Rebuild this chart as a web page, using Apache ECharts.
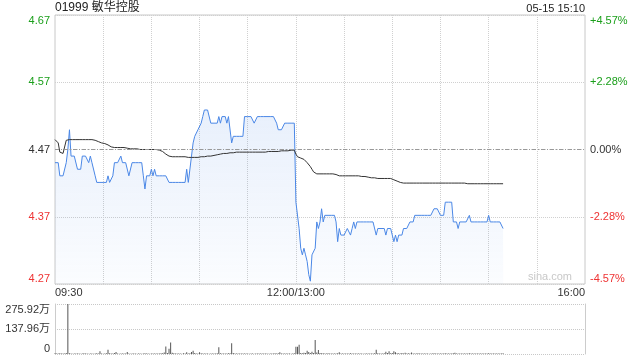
<!DOCTYPE html>
<html><head><meta charset="utf-8">
<script src="https://cdn.jsdelivr.net/npm/echarts@6/dist/echarts.min.js"></script>
<style>html,body{margin:0;padding:0;background:#fff}#c{width:640px;height:360px}</style>
</head><body><div id="c"></div>
<script>
const stockTitle = '01999 敏华控股';
const stampText = '05-15 15:10';
const watermark = 'sina.com';
const prevClose = 4.47;
const priceTicks = ['4.27','4.37','4.47','4.57','4.67'];
const pctTicks = ['-4.57%','-2.28%','0.00%','+2.28%','+4.57%'];
const volTicks = ['0','137.96万','275.92万'];
const xTickLabels = {0:'09:30',150:'12:00/13:00',330:'16:00'};
const volMax = 2759200;
const pctMax = 4.57, pctStep = 2.285;

// minute categories 09:30-12:00 / 13:01-16:00
const times = [];
for (let m = 0; m <= 150; m++) { const t = 570 + m; times.push(String(Math.floor(t/60)).padStart(2,'0')+':'+String(t%60).padStart(2,'0')); }
for (let m = 1; m <= 180; m++) { const t = 780 + m; times.push(String(Math.floor(t/60)).padStart(2,'0')+':'+String(t%60).padStart(2,'0')); }

const prices = [
4.45,4.45,4.45,4.43,4.43,4.43,4.43,4.45,4.47,4.50,
4.46,4.46,4.46,4.46,4.44,4.44,4.44,4.46,4.46,4.46,
4.46,4.45,4.46,4.45,4.45,4.43,4.42,4.42,4.42,4.42,
4.42,4.42,4.42,4.43,4.42,4.42,4.43,4.45,4.45,4.45,
4.45,4.46,4.45,4.45,4.45,4.45,4.43,4.43,4.45,4.45,
4.45,4.45,4.45,4.45,4.45,4.43,4.41,4.43,4.43,4.43,
4.44,4.43,4.44,4.43,4.43,4.43,4.43,4.43,4.43,4.43,
4.43,4.42,4.42,4.42,4.42,4.42,4.42,4.42,4.42,4.42,
4.42,4.42,4.44,4.42,4.42,4.46,4.48,4.49,4.49,4.50,
4.50,4.51,4.52,4.53,4.53,4.53,4.53,4.51,4.51,4.51,
4.51,4.51,4.52,4.51,4.52,4.52,4.52,4.51,4.52,4.52,
4.48,4.49,4.49,4.49,4.49,4.49,4.49,4.49,4.52,4.52,
4.52,4.52,4.52,4.52,4.51,4.51,4.52,4.52,4.52,4.52,
4.52,4.52,4.52,4.52,4.52,4.52,4.52,4.52,4.51,4.50,
4.50,4.50,4.50,4.51,4.51,4.51,4.51,4.51,4.51,4.51,
4.39,4.39,4.35,4.32,4.31,4.32,4.31,4.30,4.28,4.27,
4.31,4.31,4.32,4.36,4.35,4.36,4.38,4.36,4.37,4.37,
4.37,4.37,4.37,4.37,4.37,4.36,4.33,4.35,4.34,4.34,
4.34,4.34,4.35,4.35,4.34,4.35,4.36,4.35,4.36,4.36,
4.36,4.36,4.36,4.36,4.36,4.36,4.36,4.36,4.36,4.36,
4.34,4.35,4.35,4.35,4.35,4.35,4.34,4.35,4.35,4.35,
4.34,4.33,4.34,4.33,4.34,4.34,4.34,4.35,4.35,4.35,
4.35,4.36,4.36,4.36,4.37,4.37,4.37,4.37,4.37,4.37,
4.37,4.37,4.37,4.37,4.37,4.37,4.38,4.38,4.38,4.38,
4.37,4.37,4.37,4.39,4.39,4.39,4.39,4.39,4.36,4.36,
4.36,4.35,4.36,4.36,4.36,4.36,4.36,4.36,4.37,4.36,
4.36,4.36,4.36,4.36,4.36,4.36,4.36,4.36,4.36,4.36,
4.37,4.36,4.36,4.36,4.36,4.36,4.36,4.36,4.36,4.35
];

const avgPrices = [
4.485,4.485,4.480,4.466,4.464,4.464,4.466,4.484,4.485,4.485,
4.485,4.485,4.485,4.485,4.485,4.485,4.485,4.485,4.485,4.485,
4.485,4.485,4.485,4.485,4.485,4.484,4.483,4.482,4.480,4.480,
4.479,4.479,4.478,4.477,4.476,4.474,4.474,4.473,4.473,4.473,
4.473,4.473,4.473,4.473,4.473,4.472,4.472,4.471,4.471,4.471,
4.471,4.471,4.471,4.470,4.470,4.470,4.470,4.470,4.470,4.470,
4.470,4.470,4.470,4.470,4.470,4.469,4.468,4.467,4.465,4.463,
4.461,4.460,4.459,4.459,4.459,4.459,4.459,4.459,4.459,4.459,
4.459,4.459,4.459,4.458,4.458,4.458,4.458,4.458,4.458,4.458,
4.459,4.459,4.459,4.459,4.459,4.460,4.460,4.460,4.461,4.461,
4.461,4.462,4.463,4.463,4.463,4.464,4.464,4.464,4.465,4.465,
4.465,4.465,4.465,4.466,4.466,4.466,4.466,4.466,4.466,4.466,
4.466,4.466,4.466,4.466,4.466,4.466,4.466,4.466,4.466,4.466,
4.466,4.466,4.466,4.467,4.467,4.467,4.467,4.467,4.467,4.467,
4.467,4.468,4.468,4.468,4.468,4.468,4.469,4.469,4.469,4.469,
4.463,4.459,4.457,4.457,4.456,4.455,4.453,4.450,4.447,4.444,
4.440,4.436,4.434,4.433,4.433,4.433,4.433,4.433,4.433,4.433,
4.433,4.433,4.433,4.433,4.433,4.432,4.431,4.430,4.430,4.430,
4.430,4.430,4.430,4.430,4.430,4.430,4.430,4.430,4.430,4.430,
4.430,4.429,4.429,4.429,4.428,4.428,4.428,4.427,4.427,4.427,
4.426,4.426,4.426,4.426,4.426,4.426,4.426,4.426,4.426,4.426,
4.425,4.424,4.423,4.422,4.421,4.420,4.420,4.419,4.419,4.419,
4.419,4.419,4.419,4.419,4.419,4.419,4.419,4.419,4.419,4.419,
4.419,4.419,4.419,4.419,4.419,4.419,4.419,4.419,4.419,4.419,
4.419,4.419,4.419,4.419,4.419,4.419,4.419,4.419,4.419,4.419,
4.419,4.419,4.419,4.419,4.419,4.419,4.418,4.418,4.418,4.418,
4.418,4.418,4.418,4.418,4.418,4.418,4.418,4.418,4.418,4.418,
4.418,4.418,4.418,4.418,4.418,4.418,4.418,4.418,4.418,4.418
];

const volumes = [
42000,30000,25000,38000,22000,31000,27000,55000,2759200,36000,
24000,18000,30000,21000,26000,33000,19000,25000,40000,22000,
28000,17000,23000,30000,19000,26000,35000,21000,150000,32000,
20000,27000,45000,240000,38000,22000,30000,60000,110000,26000,
19000,24000,33000,28000,21000,110000,26000,18000,30000,23000,
27000,20000,25000,31000,19000,24000,42000,22000,28000,20000,
26000,33000,21000,29000,24000,30000,38000,45000,80000,420000,
60000,290000,640000,70000,35000,28000,22000,30000,26000,19000,
40000,33000,90000,25000,45000,110000,180000,50000,30000,27000,
90000,35000,28000,22000,31000,26000,20000,29000,33000,24000,
30000,45000,370000,40000,28000,22000,30000,26000,35000,48000,
590000,55000,30000,26000,33000,21000,28000,24000,30000,22000,
27000,20000,25000,31000,19000,26000,23000,29000,21000,25000,
30000,22000,26000,20000,28000,24000,31000,35000,26000,45000,
90000,30000,24000,28000,22000,26000,33000,20000,30000,35000,
400000,400000,510000,60000,45000,70000,50000,180000,110000,50000,
120000,60000,770000,80000,220000,50000,35000,40000,30000,26000,
45000,28000,33000,24000,30000,26000,38000,90000,30000,25000,
28000,22000,30000,26000,35000,24000,29000,21000,27000,32000,
23000,28000,20000,26000,31000,24000,27000,22000,30000,45000,
240000,40000,28000,33000,26000,45000,120000,50000,150000,40000,
60000,150000,90000,35000,45000,30000,50000,28000,70000,33000,
40000,26000,80000,30000,24000,28000,35000,22000,30000,26000,
29000,24000,31000,20000,27000,25000,40000,33000,26000,30000,
28000,22000,30000,35000,26000,24000,31000,28000,45000,70000,
30000,25000,28000,22000,33000,26000,30000,24000,40000,28000,
25000,30000,22000,27000,33000,24000,28000,21000,26000,30000,
38000,25000,28000,22000,30000,26000,24000,29000,33000,40000
];

const FONT = '"Liberation Sans", Arial, "Noto Sans CJK SC", sans-serif';
const green = '#1a9f1a', red = '#ee3333', dark = '#333';
const toPct = p => (p / prevClose - 1) * 100;
const pricePct = prices.map(toPct);
const avgPct = avgPrices.map(toPct);
const tickIdx = v => Math.round((v + pctMax) / pctStep);
const cls = k => (k > 2 ? 'g' : (k < 2 ? 'r' : 'k'));
const rich = {g:{color:green,fontSize:11,fontFamily:FONT}, r:{color:red,fontSize:11,fontFamily:FONT}, k:{color:dark,fontSize:11,fontFamily:FONT}};
const dotted = {color:'#d0d0d0', type:'dotted', width:1};

const chart = echarts.init(document.getElementById('c'), null, {renderer:'canvas'});
chart.setOption({
  animation:false,
  textStyle:{fontFamily:FONT},
  grid:[
    {left:55, right:55, top:15, height:269, show:true, borderColor:'#c8c8c8', borderWidth:1, backgroundColor:'transparent'},
    {left:55, right:55, top:304, height:50, show:false}
  ],
  xAxis:[
    {type:'category', gridIndex:0, data:times, boundaryGap:false,
     axisLine:{show:false}, axisTick:{show:false},
     axisLabel:{interval:(i)=>(i in xTickLabels), formatter:(v,i)=>xTickLabels[i]||'', color:dark, fontSize:11, margin:3, alignMinLabel:'left', alignMaxLabel:'right', showMinLabel:true, showMaxLabel:true},
     splitLine:{show:true, interval:(i)=>(i%30===0 && i>0 && i<330), lineStyle:dotted}},
    {type:'category', gridIndex:1, data:times, boundaryGap:false,
     axisLine:{show:false}, axisTick:{show:false}, axisLabel:{show:false}, splitLine:{show:false}}
  ],
  yAxis:[
    {type:'value', gridIndex:0, position:'left', min:-pctMax, max:pctMax, interval:pctStep,
     axisLine:{show:false}, axisTick:{show:false},
     axisLabel:{fontSize:11, margin:5, formatter:(v)=>{const k=tickIdx(v); return '{'+cls(k)+'|'+priceTicks[k]+'}';}, rich:rich, verticalAlignMaxLabel:'top', verticalAlignMinLabel:'bottom'},
     splitLine:{show:true, lineStyle:dotted}},
    {type:'value', gridIndex:0, position:'right', min:-pctMax, max:pctMax, interval:pctStep,
     axisLine:{show:false}, axisTick:{show:false},
     axisLabel:{fontSize:11, margin:5, formatter:(v)=>{const k=tickIdx(v); return '{'+cls(k)+'|'+pctTicks[k]+'}';}, rich:rich, verticalAlignMaxLabel:'top', verticalAlignMinLabel:'bottom'},
     splitLine:{show:false}},
    {type:'value', gridIndex:1, position:'left', min:0, max:volMax, interval:volMax/2,
     axisLine:{show:true, lineStyle:{color:'#cccccc'}}, axisTick:{show:false},
     axisLabel:{fontSize:11, margin:5, color:dark, formatter:(v)=>volTicks[Math.round(v/(volMax/2))], verticalAlignMaxLabel:'top', verticalAlignMinLabel:'bottom'},
     splitLine:{show:true, lineStyle:{color:'#c8c8c8', type:'dotted', width:1}}},
    {type:'value', gridIndex:1, position:'right', min:0, max:volMax, interval:volMax/2,
     axisLine:{show:true, lineStyle:{color:'#cccccc'}}, axisTick:{show:false}, axisLabel:{show:false}, splitLine:{show:false}}
  ],
  series:[
    {name:'price', type:'line', xAxisIndex:0, yAxisIndex:0, data:pricePct, symbol:'none', showSymbol:false,
     lineStyle:{color:'#4a87e6', width:1},
     areaStyle:{origin:'start', color:{type:'linear', x:0, y:0, x2:0, y2:1, colorStops:[{offset:0,color:'rgba(74,135,230,0.18)'},{offset:1,color:'rgba(74,135,230,0.03)'}]}},
     markLine:{silent:true, symbol:['none','none'], label:{show:false}, emphasis:{disabled:true}, lineStyle:{color:'#999', type:[4,2,1,2], width:1}, data:[{yAxis:0}]},
     z:3},
    {name:'avg', type:'line', xAxisIndex:0, yAxisIndex:0, data:avgPct, symbol:'none', showSymbol:false,
     lineStyle:{color:'#333', width:1}, z:4},
    {name:'vol', type:'bar', xAxisIndex:1, yAxisIndex:2, data:volumes, barWidth:1, itemStyle:{color:'#555'}}
  ],
  graphic:[
    {type:'text', left:55, top:2, style:{text:stockTitle, fill:'#222', font:'12px '+FONT}},
    {type:'text', right:55, top:3, style:{text:stampText, fill:'#222', font:'11px '+FONT}},
    {type:'text', right:68, top:271, style:{text:watermark, fill:'#c8c8c8', font:'11px '+FONT}}
  ]
});
</script>
</body></html>
